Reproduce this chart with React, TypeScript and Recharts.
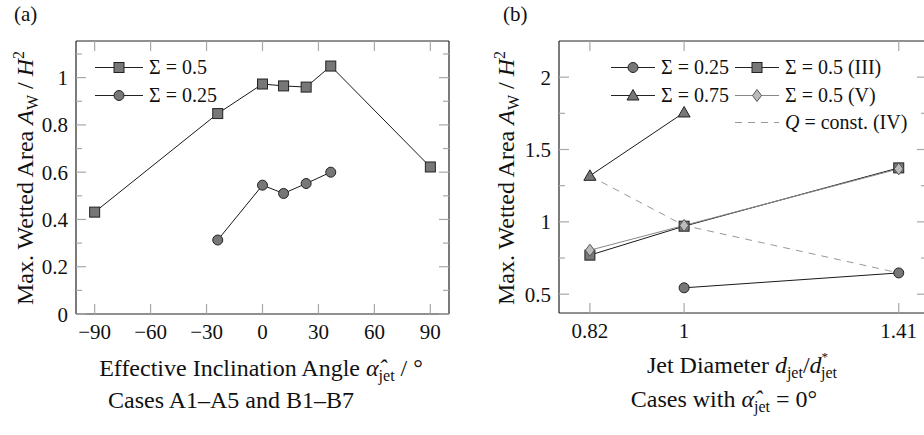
import React from 'react';
import { LineChart, Line, XAxis, YAxis, Legend } from 'recharts';

const FONT = '"Liberation Serif", "Times New Roman", "Liberation Sans", sans-serif';

// (a) wetted area over effective inclination angle
const angleSig05 = [-90, -24, 0, 11.3, 23.4, 36.6, 90];
const areaSig05 = [0.431, 0.848, 0.973, 0.965, 0.96, 1.049, 0.622];
const angleSig025 = [-24, 0, 11.3, 23.4, 36.6];
const areaSig025 = [0.313, 0.545, 0.51, 0.552, 0.6];
const angleTicks = [-90, -60, -30, 0, 30, 60, 90];
const areaTicksA = [0, 0.1, 0.2, 0.3, 0.4, 0.5, 0.6, 0.7, 0.8, 0.9, 1, 1.1];
const areaLabelsA = [0, 0.2, 0.4, 0.6, 0.8, 1];

// (b) wetted area over jet diameter
const diamTicks = [0.82, 1, 1.41];
const diamSig025 = [1, 1.41];
const areaSig025B = [0.544, 0.647];
const diamSig05 = [0.82, 1, 1.41];
const areaSig05III = [0.77, 0.97, 1.373];
const areaSig05V = [0.804, 0.975, 1.366];
const diamSig075 = [0.82, 1];
const areaSig075 = [1.318, 1.756];
const diamQ = [0.82, 1, 1.41];
const areaQConst = [1.318, 0.975, 0.647];
const areaTicksB = [0.5, 0.75, 1, 1.25, 1.5, 1.75, 2];
const areaLabelsB = [0.5, 1, 1.5, 2];

const pts = (xs: number[], ys: number[]) => xs.map((x, i) => ({ x, y: ys[i] }));

const near = (list: number[], v: number) => list.some((l) => Math.abs(l - v) < 1e-6);
const fmtNum = (v: number) => (v < 0 ? '\u2212' + String(-v) : String(v));

const TICK_COLOR = '#a8a8a8';
const AXIS = { stroke: '#222', strokeWidth: 1.2 };

// inward pointing ticks, labels only on left/bottom
const makeTick = (side: string, labels: number[], showLabel: boolean) => (props: any) => {
  const { x, y, payload } = props;
  const v = payload.value;
  const major = near(labels, v);
  const len = major ? 10 : 6;
  let seg = { x1: x, y1: y, x2: x, y2: y };
  if (side === 'left') seg = { x1: x, y1: y, x2: x + len, y2: y };
  if (side === 'right') seg = { x1: x, y1: y, x2: x - len, y2: y };
  if (side === 'top') seg = { x1: x, y1: y, x2: x, y2: y + len };
  if (side === 'bottom') seg = { x1: x, y1: y, x2: x, y2: y - len };
  return (
    <g>
      <line {...seg} stroke={TICK_COLOR} strokeWidth={1.2} />
      {showLabel && major && side === 'left' && (
        <text x={x - 8} y={y + 7.5} textAnchor="end" style={{ fontFamily: FONT }} fontSize={21} fill="#111">
          {fmtNum(v)}
        </text>
      )}
      {showLabel && major && side === 'bottom' && (
        <text x={x} y={y + 25} textAnchor="middle" style={{ fontFamily: FONT }} fontSize={21} fill="#111">
          {fmtNum(v)}
        </text>
      )}
    </g>
  );
};

const Square = (p: any) =>
  p.cx == null ? null : (
    <rect key={p.key} x={p.cx - 5} y={p.cy - 5} width={10} height={10} fill="#777" stroke="#222" strokeWidth={1} />
  );
const Circle = (p: any) =>
  p.cx == null ? null : <circle key={p.key} cx={p.cx} cy={p.cy} r={5} fill="#777" stroke="#222" strokeWidth={1} />;
const Triangle = (p: any) =>
  p.cx == null ? null : (
    <polygon
      key={p.key}
      points={`${p.cx},${p.cy - 6} ${p.cx - 6},${p.cy + 4.5} ${p.cx + 6},${p.cy + 4.5}`}
      fill="#777"
      stroke="#222"
      strokeWidth={1}
    />
  );
const Diamond = (p: any) =>
  p.cx == null ? null : (
    <polygon
      key={p.key}
      points={`${p.cx},${p.cy - 6} ${p.cx + 4.5},${p.cy} ${p.cx},${p.cy + 6} ${p.cx - 4.5},${p.cy}`}
      fill="#bbb"
      stroke="#555"
      strokeWidth={1}
    />
  );

const markerFor: Record<string, any> = { square: Square, circle: Circle, triangle: Triangle, diamond: Diamond };

const LegendItem = ({ marker, color, dashed, label, lineW }: any) => {
  const M = marker ? markerFor[marker] : null;
  return (
    <div style={{ display: 'flex', alignItems: 'center', height: 27.5 }}>
      <svg width={lineW} height={27} style={{ overflow: 'visible' }}>
        <line x1={0} x2={lineW} y1={13.5} y2={13.5} stroke={color} strokeWidth={1} strokeDasharray={dashed ? '7 6' : undefined} />
        {M && <M cx={lineW / 2} cy={13.5} />}
      </svg>
      <span style={{ marginLeft: 6, fontFamily: FONT, fontSize: 20, color: '#111', whiteSpace: 'nowrap' }}>{label}</span>
    </div>
  );
};

const LegendA = () => (
  <div>
    <LegendItem marker="square" color="#222" label={'\u03A3 = 0.5'} lineW={48} />
    <LegendItem marker="circle" color="#222" label={'\u03A3 = 0.25'} lineW={48} />
  </div>
);

const LegendB = () => (
  <div style={{ display: 'grid', gridTemplateColumns: '124px auto' }}>
    <LegendItem marker="circle" color="#222" label={'\u03A3 = 0.25'} lineW={44} />
    <LegendItem marker="square" color="#222" label={'\u03A3 = 0.5 (III)'} lineW={44} />
    <LegendItem marker="triangle" color="#222" label={'\u03A3 = 0.75'} lineW={44} />
    <LegendItem marker="diamond" color="#888" label={'\u03A3 = 0.5 (V)'} lineW={44} />
    <div />
    <LegendItem
      dashed
      color="#999"
      label={
        <span>
          <i>Q</i> = const. (IV)
        </span>
      }
      lineW={44}
    />
  </div>
);

const PanelA = () => (
  <LineChart width={460} height={435} margin={{ top: 40, right: 10, bottom: 120, left: 75 }}>
    <XAxis
      xAxisId="b"
      type="number"
      dataKey="x"
      domain={[-100, 100]}
      allowDataOverflow
      ticks={angleTicks}
      interval={0}
      height={1}
      tickSize={0}
      tickMargin={0}
      tickLine={false}
      axisLine={AXIS}
      tick={makeTick('bottom', angleTicks, true)}
    />
    <XAxis
      xAxisId="t"
      orientation="top"
      type="number"
      dataKey="x"
      domain={[-100, 100]}
      allowDataOverflow
      ticks={angleTicks}
      interval={0}
      height={1}
      tickSize={0}
      tickMargin={0}
      tickLine={false}
      axisLine={AXIS}
      tick={makeTick('top', angleTicks, false)}
    />
    <YAxis
      yAxisId="l"
      type="number"
      domain={[0, 1.155]}
      allowDataOverflow
      ticks={areaTicksA}
      interval={0}
      width={1}
      tickSize={0}
      tickMargin={0}
      tickLine={false}
      axisLine={AXIS}
      tick={makeTick('left', areaLabelsA, true)}
    />
    <YAxis
      yAxisId="r"
      orientation="right"
      type="number"
      domain={[0, 1.155]}
      allowDataOverflow
      ticks={areaTicksA}
      interval={0}
      width={1}
      tickSize={0}
      tickMargin={0}
      tickLine={false}
      axisLine={AXIS}
      tick={makeTick('right', areaLabelsA, false)}
    />
    <Legend
      layout="vertical"
      align="center"
      verticalAlign="middle"
      content={() => <LegendA />}
      wrapperStyle={{ left: 95, top: 54, width: 'auto', height: 'auto' }}
    />
    <Line
      xAxisId="b"
      yAxisId="l"
      name={'\u03A3 = 0.5'}
      data={pts(angleSig05, areaSig05)}
      dataKey="y"
      type="linear"
      stroke="#1a1a1a"
      strokeWidth={1}
      dot={Square}
      activeDot={false}
      isAnimationActive={false}
    />
    <Line
      xAxisId="b"
      yAxisId="l"
      name={'\u03A3 = 0.25'}
      data={pts(angleSig025, areaSig025)}
      dataKey="y"
      type="linear"
      stroke="#1a1a1a"
      strokeWidth={1}
      dot={Circle}
      activeDot={false}
      isAnimationActive={false}
    />
  </LineChart>
);

const PanelB = () => (
  <LineChart width={480} height={435} margin={{ top: 40, right: 12, bottom: 121, left: 98 }}>
    <XAxis
      xAxisId="b"
      type="number"
      dataKey="x"
      domain={[0.761, 1.464]}
      allowDataOverflow
      ticks={diamTicks}
      interval={0}
      height={1}
      tickSize={0}
      tickMargin={0}
      tickLine={false}
      axisLine={AXIS}
      tick={makeTick('bottom', diamTicks, true)}
    />
    <XAxis
      xAxisId="t"
      orientation="top"
      type="number"
      dataKey="x"
      domain={[0.761, 1.464]}
      allowDataOverflow
      ticks={diamTicks}
      interval={0}
      height={1}
      tickSize={0}
      tickMargin={0}
      tickLine={false}
      axisLine={AXIS}
      tick={makeTick('top', diamTicks, false)}
    />
    <YAxis
      yAxisId="l"
      type="number"
      domain={[0.37, 2.25]}
      allowDataOverflow
      ticks={areaTicksB}
      interval={0}
      width={1}
      tickSize={0}
      tickMargin={0}
      tickLine={false}
      axisLine={AXIS}
      tick={makeTick('left', areaLabelsB, true)}
    />
    <YAxis
      yAxisId="r"
      orientation="right"
      type="number"
      domain={[0.37, 2.25]}
      allowDataOverflow
      ticks={areaTicksB}
      interval={0}
      width={1}
      tickSize={0}
      tickMargin={0}
      tickLine={false}
      axisLine={AXIS}
      tick={makeTick('right', areaLabelsB, false)}
    />
    <Legend
      layout="vertical"
      align="center"
      verticalAlign="middle"
      content={() => <LegendB />}
      wrapperStyle={{ left: 151, top: 54, width: 'auto', height: 'auto' }}
    />
    <Line
      xAxisId="b"
      yAxisId="l"
      name="Q = const. (IV)"
      data={pts(diamQ, areaQConst)}
      dataKey="y"
      type="linear"
      stroke="#999"
      strokeWidth={1}
      strokeDasharray="7 6"
      dot={false}
      activeDot={false}
      isAnimationActive={false}
    />
    <Line
      xAxisId="b"
      yAxisId="l"
      name={'\u03A3 = 0.25'}
      data={pts(diamSig025, areaSig025B)}
      dataKey="y"
      type="linear"
      stroke="#1a1a1a"
      strokeWidth={1}
      dot={Circle}
      activeDot={false}
      isAnimationActive={false}
    />
    <Line
      xAxisId="b"
      yAxisId="l"
      name={'\u03A3 = 0.75'}
      data={pts(diamSig075, areaSig075)}
      dataKey="y"
      type="linear"
      stroke="#1a1a1a"
      strokeWidth={1}
      dot={Triangle}
      activeDot={false}
      isAnimationActive={false}
    />
    <Line
      xAxisId="b"
      yAxisId="l"
      name={'\u03A3 = 0.5 (III)'}
      data={pts(diamSig05, areaSig05III)}
      dataKey="y"
      type="linear"
      stroke="#1a1a1a"
      strokeWidth={1}
      dot={Square}
      activeDot={false}
      isAnimationActive={false}
    />
    <Line
      xAxisId="b"
      yAxisId="l"
      name={'\u03A3 = 0.5 (V)'}
      data={pts(diamSig05, areaSig05V)}
      dataKey="y"
      type="linear"
      stroke="#888"
      strokeWidth={1}
      dot={Diamond}
      activeDot={false}
      isAnimationActive={false}
    />
  </LineChart>
);

const it = { fontStyle: 'italic' as const };

// alpha with a combining circumflex, kept in one run
const alphaHat = '\u03B1\u0302';

const Labels = () => (
  <svg
    width={924}
    height={435}
    style={{ position: 'absolute', left: 0, top: 0, pointerEvents: 'none', fontFamily: FONT }}
    fill="#111"
  >
    <text x={14} y={21} fontSize={21}>(a)</text>
    <text x={503} y={21} fontSize={21}>(b)</text>

    <text x={33} y={178} fontSize={24} textAnchor="middle" transform="rotate(-90 33 178)">
      Max. Wetted Area <tspan style={it}>A</tspan>
      <tspan fontSize={16} dy={5}>W</tspan>
      <tspan dy={-5}> / </tspan>
      <tspan style={it}>H</tspan>
      <tspan fontSize={16} dy={-9}>2</tspan>
    </text>
    <text x={514} y={178} fontSize={24} textAnchor="middle" transform="rotate(-90 514 178)">
      Max. Wetted Area <tspan style={it}>A</tspan>
      <tspan fontSize={16} dy={5}>W</tspan>
      <tspan dy={-5}> / </tspan>
      <tspan style={it}>H</tspan>
      <tspan fontSize={16} dy={-9}>2</tspan>
    </text>

    <text x={261} y={376} fontSize={24} textAnchor="middle">
      Effective Inclination Angle <tspan style={it}>{alphaHat}</tspan>
      <tspan fontSize={16} dy={5}>jet</tspan>
      <tspan dy={-5}> / °</tspan>
    </text>
    <text x={231} y={408} fontSize={24} textAnchor="middle">
      Cases A1{'\u2013'}A5 and B1{'\u2013'}B7
    </text>

    <text x={742} y={373} fontSize={24} textAnchor="middle">
      Jet Diameter <tspan style={it}>d</tspan>
      <tspan fontSize={16} dy={5}>jet</tspan>
      <tspan dy={-5}>/</tspan>
      <tspan style={it}>d</tspan>
      <tspan fontSize={13} dy={-12}>*</tspan>
      <tspan fontSize={16} dx={-7} dy={17}>jet</tspan>
    </text>
    <text x={724} y={407} fontSize={24} textAnchor="middle">
      Cases with <tspan style={it}>{alphaHat}</tspan>
      <tspan fontSize={16} dy={5}>jet</tspan>
      <tspan dy={-5}> = 0°</tspan>
    </text>
  </svg>
);

export default function App() {
  return (
    <div
      style={{
        position: 'absolute',
        left: 0,
        top: 0,
        width: 924,
        height: 435,
        overflow: 'hidden',
        background: '#fff',
        fontFamily: FONT,
      }}
    >
      <div style={{ position: 'absolute', left: 0, top: 0 }}>
        <PanelA />
      </div>
      <div style={{ position: 'absolute', left: 460, top: 0 }}>
        <PanelB />
      </div>
      <Labels />
    </div>
  );
}
